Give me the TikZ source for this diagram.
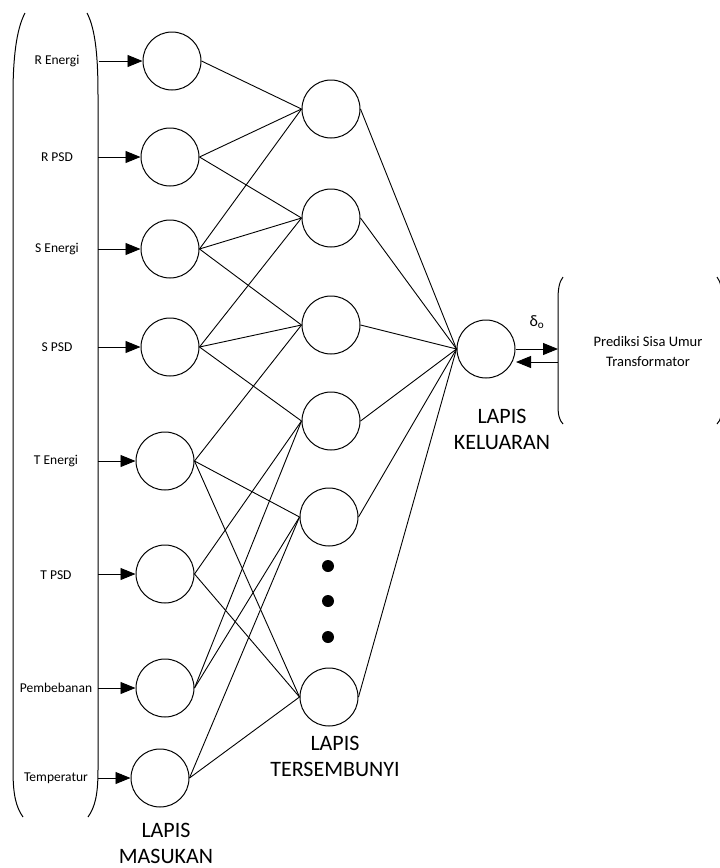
\documentclass[tikz,border=0pt]{standalone}
\usepackage{fontspec}
\setmainfont{Carlito}
\usetikzlibrary{arrows.meta}
\begin{document}
\begin{tikzpicture}[x=1pt,y=-1pt,
  neuron/.style={circle,draw,line width=1pt,minimum size=58pt,inner sep=0pt},
  link/.style={line width=0.9pt},
  feed/.style={line width=0.9pt,-{Triangle[length=15pt,width=12pt]}},
  inlabel/.style={font=\fontsize{13.5}{15}\selectfont,inner sep=0pt},
  layer/.style={font=\fontsize{22}{26}\selectfont,align=center,inner sep=0pt},
  dot/.style={circle,fill,inner sep=0pt,minimum size=12pt}]
\clip (0,0) rectangle (720,868);
\fill[white] (0,0) rectangle (720,868);

% input column bracket
\draw[line width=1pt] (25,13) .. controls (16,30) and (13,60) .. (13,95) -- (13,770)
  .. controls (13,795) and (16,807) .. (23,817);
\draw[line width=1pt] (87,13) .. controls (96,30) and (98,60) .. (98,95) -- (98,770)
  .. controls (98,795) and (95,807) .. (88,817);

% output bracket
\draw[line width=1pt] (563,277) .. controls (559,282) and (558,290) .. (558,300) -- (558,405)
  .. controls (558,414) and (559,420) .. (563,424);
\draw[line width=1pt] (717,277) .. controls (721,282) and (722,290) .. (722,300) -- (722,405)
  .. controls (722,414) and (721,420) .. (717,424);

% input labels and the points where their arrows leave the bracket
\node[inlabel] (l1) at (57,61) {R Energi};
\node[inlabel] (l2) at (57,157) {R PSD};
\node[inlabel] (l3) at (57,249) {S Energi};
\node[inlabel] (l4) at (57,347) {S PSD};
\node[inlabel] (l5) at (56,461) {T Energi};
\node[inlabel] (l6) at (56,575) {T PSD};
\node[inlabel] (l7) at (56,688) {Pembebanan};
\node[inlabel] (l8) at (56,778) {Temperatur};
\coordinate (s1) at (99,61);
\coordinate (s2) at (98,157);
\coordinate (s3) at (98,249);
\coordinate (s4) at (98,347);
\coordinate (s5) at (98,461);
\coordinate (s6) at (98,574);
\coordinate (s7) at (98,688);
\coordinate (s8) at (98,778);

% input layer
\node[neuron] (i1) at (172,61) {};
\node[neuron] (i2) at (170,157) {};
\node[neuron] (i3) at (170,249) {};
\node[neuron] (i4) at (170,347) {};
\node[neuron] (i5) at (165,461) {};
\node[neuron] (i6) at (165,574) {};
\node[neuron] (i7) at (165,688) {};
\node[neuron] (i8) at (160,778) {};

% hidden layer
\node[neuron] (h1) at (331,109) {};
\node[neuron] (h2) at (331,218) {};
\node[neuron] (h3) at (331,325) {};
\node[neuron] (h4) at (331,421) {};
\node[neuron] (h5) at (329,517) {};
\node[neuron] (h6) at (329,697) {};
\node[dot] (d1) at (328,566) {};
\node[dot] (d2) at (328,601) {};
\node[dot] (d3) at (328,637) {};

% output layer
\node[neuron] (o) at (486,349) {};

% input arrows
\foreach \k in {1,...,8} \draw[feed] (s\k) -- (i\k.west);

% input -> hidden
\foreach \a/\b in {1/1,2/1,3/1, 2/2,3/2,4/2, 3/3,4/3,5/3, 4/4,6/4,7/4, 5/5,7/5,8/5, 5/6,6/6,8/6}
  \draw[link] (i\a.east) -- (h\b.west);

% hidden -> output
\foreach \b in {1,...,6} \draw[link] (h\b.east) -- (o.west);

% output exchange
\coordinate (pa) at (558,349);
\coordinate (pb) at (558,362);
\coordinate (ob) at (516,362);
\draw[feed] (o.east) -- (pa);
\draw[feed] (pb) -- (ob);

\node[font=\fontsize{16}{18}\selectfont,inner sep=0pt] (delta) at (537,322) {δ\textsubscript{o}};
\node[font=\fontsize{14.5}{20}\selectfont,align=center,inner sep=0pt] (pred) at (648,352)
  {Prediksi Sisa Umur\\Transformator};

% layer captions
\node[layer] (lin) at (166,843) {LAPIS\\MASUKAN};
\node[layer] (lhid) at (335,756) {LAPIS\\TERSEMBUNYI};
\node[layer] (lout) at (502,429) {LAPIS\\KELUARAN};
\end{tikzpicture}
\end{document}
